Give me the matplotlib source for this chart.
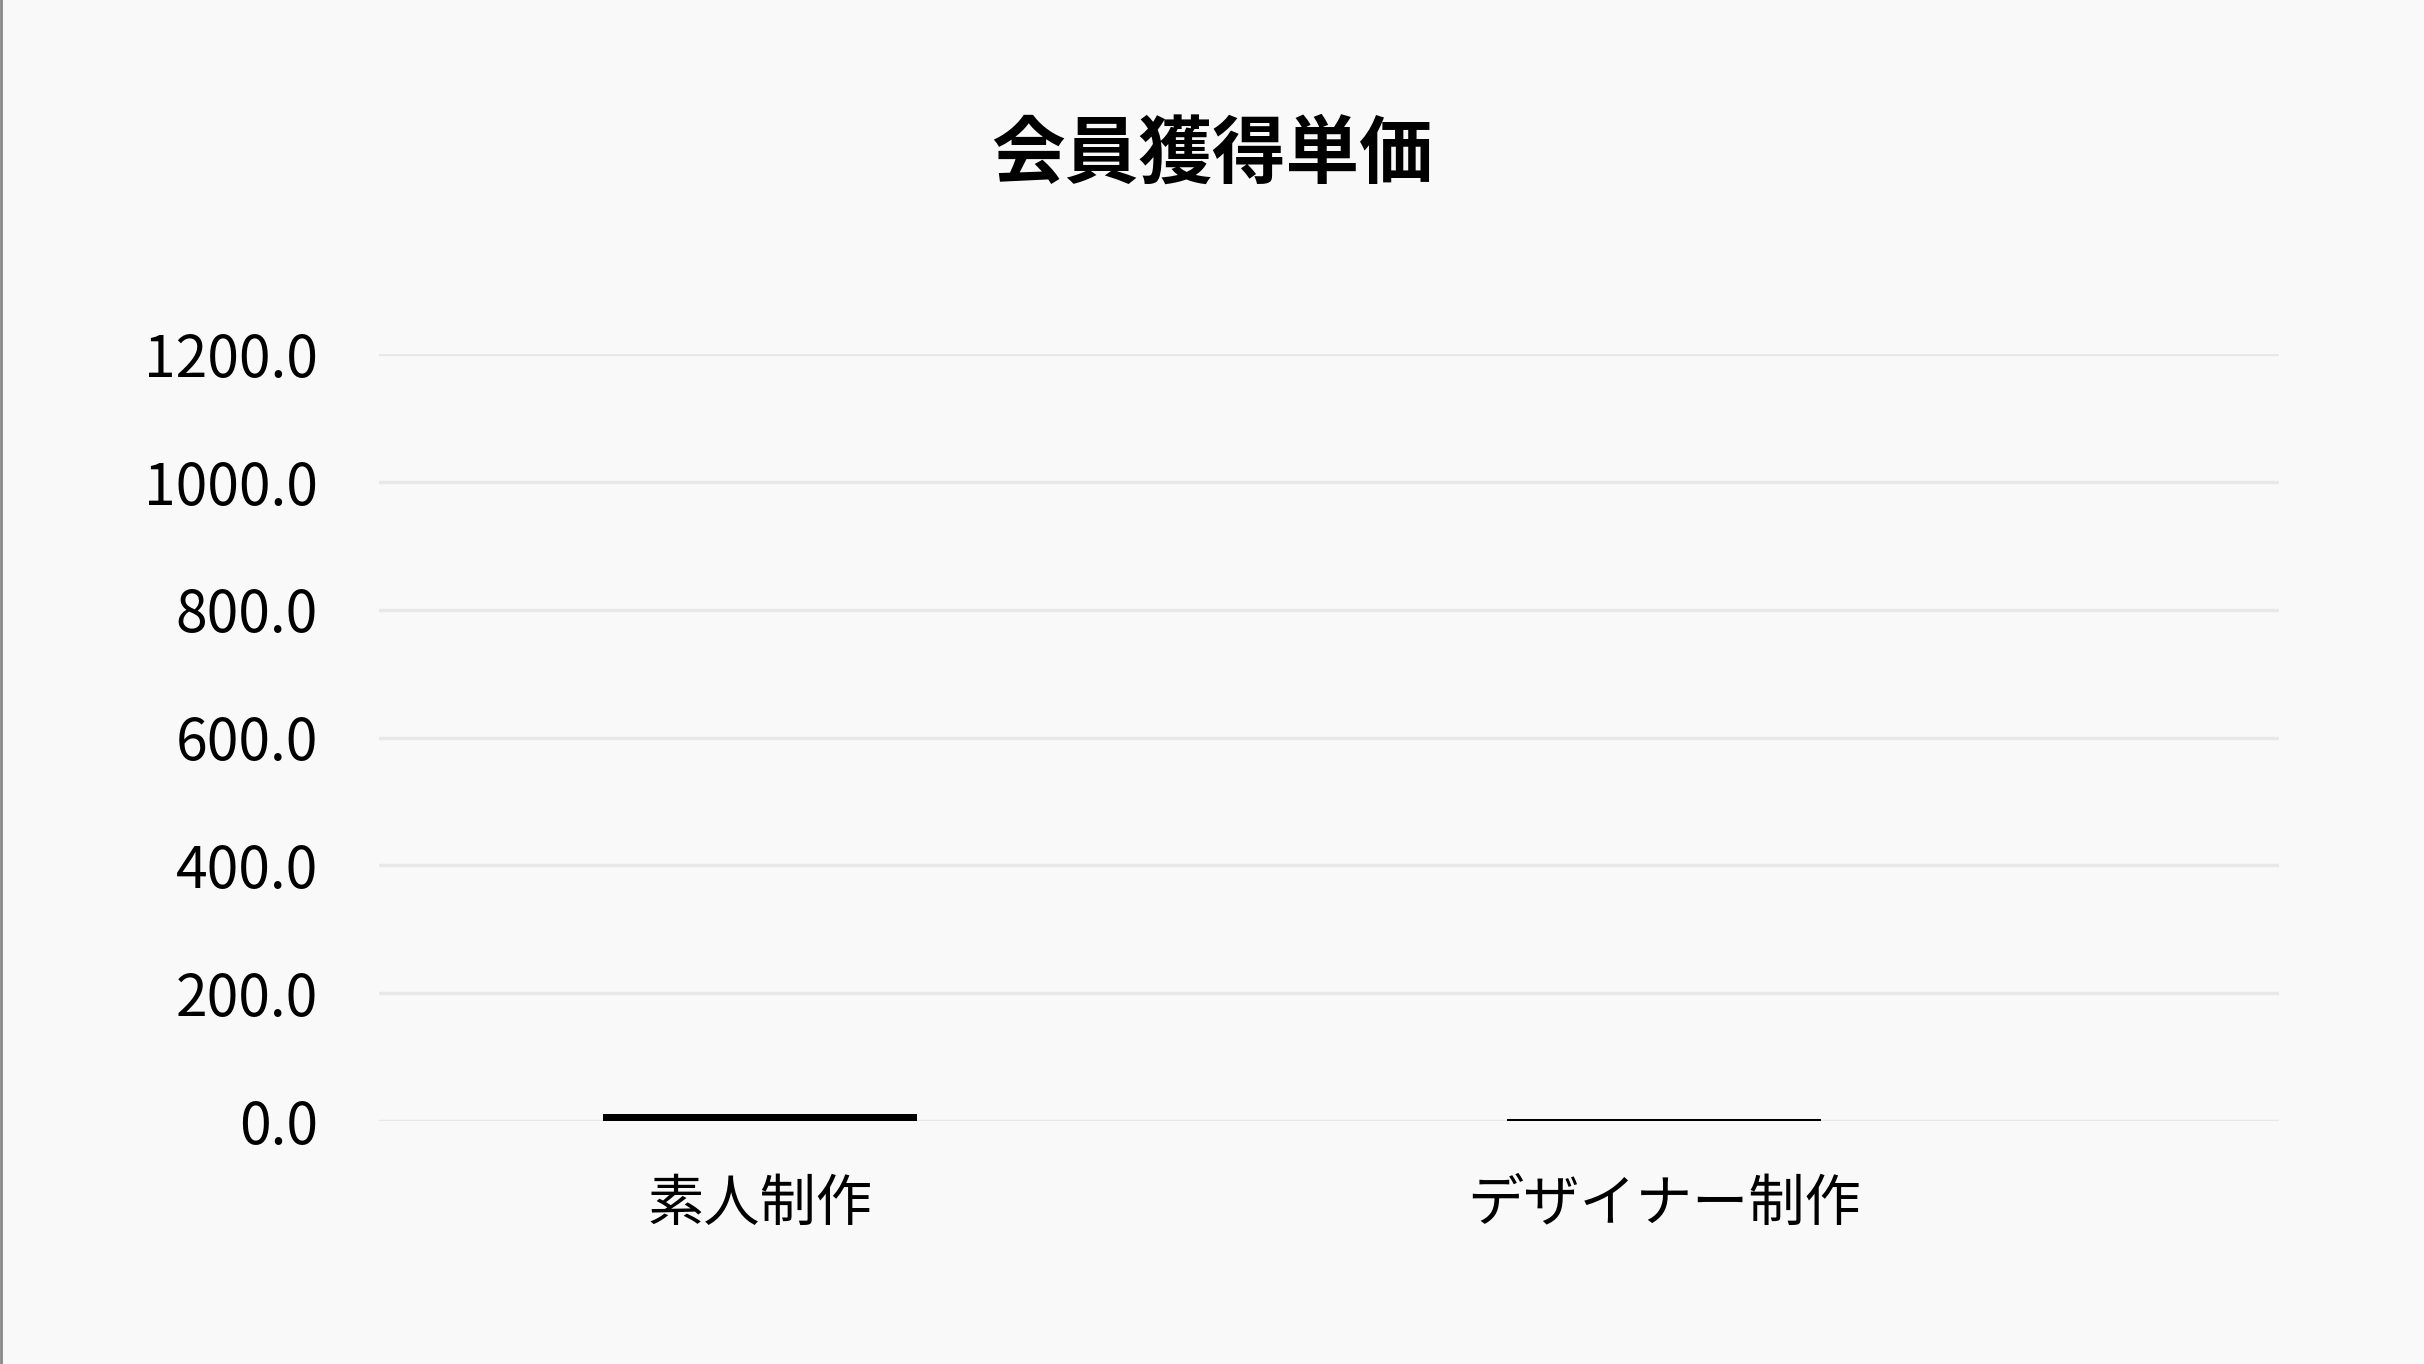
import matplotlib
matplotlib.use("Agg")
import matplotlib.pyplot as plt

categories = ["素人制作", "デザイナー制作"]
values = [10.5, 2.5]
y_ticks = [0, 200, 400, 600, 800, 1000, 1200]

plt.rcParams['font.family'] = ['Noto Sans CJK JP', 'DejaVu Sans']

bg = "#f9f9f9"
fig = plt.figure(figsize=(24.24, 13.64), dpi=100, facecolor=bg)
ax = fig.add_axes([379 / 2424, 1 - 1121 / 1364, (2279 - 379) / 2424, (1121 - 354) / 1364])
ax.set_facecolor(bg)

x = list(range(len(categories)))
ax.bar(x, values, width=0.347, color="black", zorder=3)

ax.set_xlim(-0.421, 1.68)
ax.set_ylim(0, 1200)
ax.set_yticks(y_ticks)
ax.set_yticklabels([f"{v:.1f}" for v in y_ticks])
ax.set_xticks(x)
ax.set_xticklabels(categories)
ax.tick_params(axis="y", length=0, pad=44, labelsize=41)
ax.tick_params(axis="x", length=0, pad=40, labelsize=40.5)
ax.grid(axis="y", color="#e8e8e8", linewidth=2.5, zorder=0)
for s in ax.spines.values():
    s.set_visible(False)

fig.text(0.5, 1 - 156 / 1364, "会員獲得単価", ha="center", va="center",
         fontsize=53, fontweight="bold")

# thin frame on the left edge like the screenshot
fig.add_artist(plt.Line2D([0.0005, 0.0005], [0, 1], color="#888888", linewidth=2))

fig.savefig("out.png", dpi=100, facecolor=bg)
